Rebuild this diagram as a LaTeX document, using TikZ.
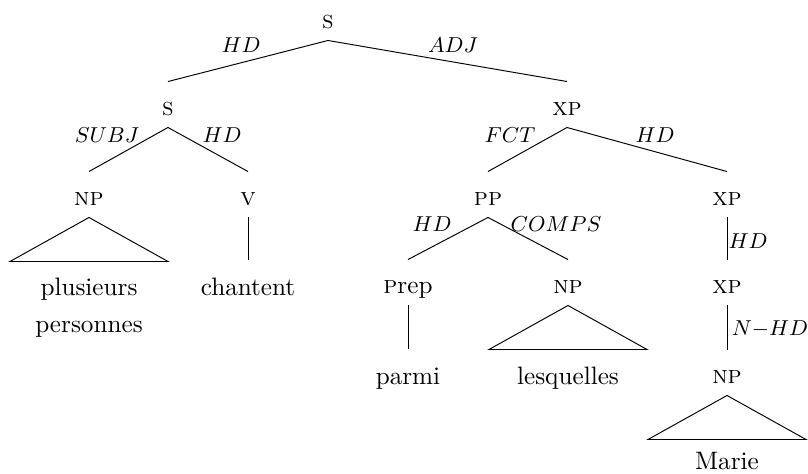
\documentclass[tikz,border=0pt]{standalone}
\usepackage{tikz}
\tikzset{
    every node/.style={font=\fontsize{10.5}{12.5}\selectfont},
    cat/.style={inner sep=0pt,anchor=base,text height=13.75pt,text depth=5pt},
    word/.style={inner sep=0pt,anchor=base,text height=14.5pt,text depth=0pt,align=center},
    lab/.style={inner sep=0pt,font=\small},
    branch/.style={draw,line width=0.4pt}
}

\begin{document}
\begin{tikzpicture}[x=0.4167pt,y=-0.4167pt]
    \useasboundingbox (0,0) rectangle (808,474);
    % categories
    \node[cat] (s0) at (328,28) {\textsc{s}};
    \node[cat] (s1) at (168,115) {\textsc{s}};
    \node[cat] (xp1) at (567,115) {\textsc{xp}};
    \node[cat] (np1) at (89,205) {\textsc{np}};
    \node[cat] (v) at (248,205) {\textsc{v}};
    \node[cat] (pp) at (488,205) {\textsc{pp}};
    \node[cat] (xp2) at (727,205) {\textsc{xp}};
    \node[cat] (prep) at (408,293) {\textsc{p}rep};
    \node[cat] (np2) at (568,293) {\textsc{np}};
    \node[cat] (xp3) at (727,293) {\textsc{xp}};
    \node[cat] (np3) at (727,383) {\textsc{np}};
    % words
    \node[word] (plus) at (89,332) {plusieurs\\[2.9pt]personnes};
    \node[word] (chant) at (248,295) {chantent};
    \node[word] (parmi) at (408,384) {parmi};
    \node[word] (lesq) at (568,384) {lesquelles};
    \node[word] (marie) at (727,469) {Marie};
    % branches
    \draw[branch] (s0.south) -- (s1.north);
    \draw[branch] (s0.south) -- (xp1.north);
    \draw[branch] (s1.south) -- (np1.north);
    \draw[branch] (s1.south) -- (v.north);
    \draw[branch] (xp1.south) -- (pp.north);
    \draw[branch] (xp1.south) -- (xp2.north);
    \draw[branch] (pp.south) -- (prep.north);
    \draw[branch] (pp.south) -- (np2.north);
    \draw[branch] (v.south) -- (chant.north);
    \draw[branch] (prep.south) -- (parmi.north);
    \draw[branch] (xp2.south) -- (xp3.north);
    \draw[branch] (xp3.south) -- (np3.north);
    % triangles
    \draw[branch] (np1.south) -- ++(-79,44) -- ++(158,0) -- cycle;
    \draw[branch] (np2.south) -- ++(-79,44) -- ++(158,0) -- cycle;
    \draw[branch] (np3.south) -- ++(-79,44) -- ++(158,0) -- cycle;
    % function labels
    \node[lab] (l-hd0) at (241,45) {$HD$};
    \node[lab] (l-adj) at (453,45) {$ADJ$};
    \node[lab] (l-subj) at (107,135) {$SUBJ$};
    \node[lab] (l-hd1) at (222,135) {$HD$};
    \node[lab] (l-fct) at (510,135) {$FCT$};
    \node[lab] (l-hd2) at (655,135) {$HD$};
    \node[lab] (l-hd3) at (432,224) {$HD$};
    \node[lab] (l-comps) at (556,224) {$COMPS$};
    \node[lab] (l-hd4) at (748,241) {$HD$};
    \node[lab] (l-nhd) at (770,329) {$N{-}HD$};
\end{tikzpicture}
\end{document}
